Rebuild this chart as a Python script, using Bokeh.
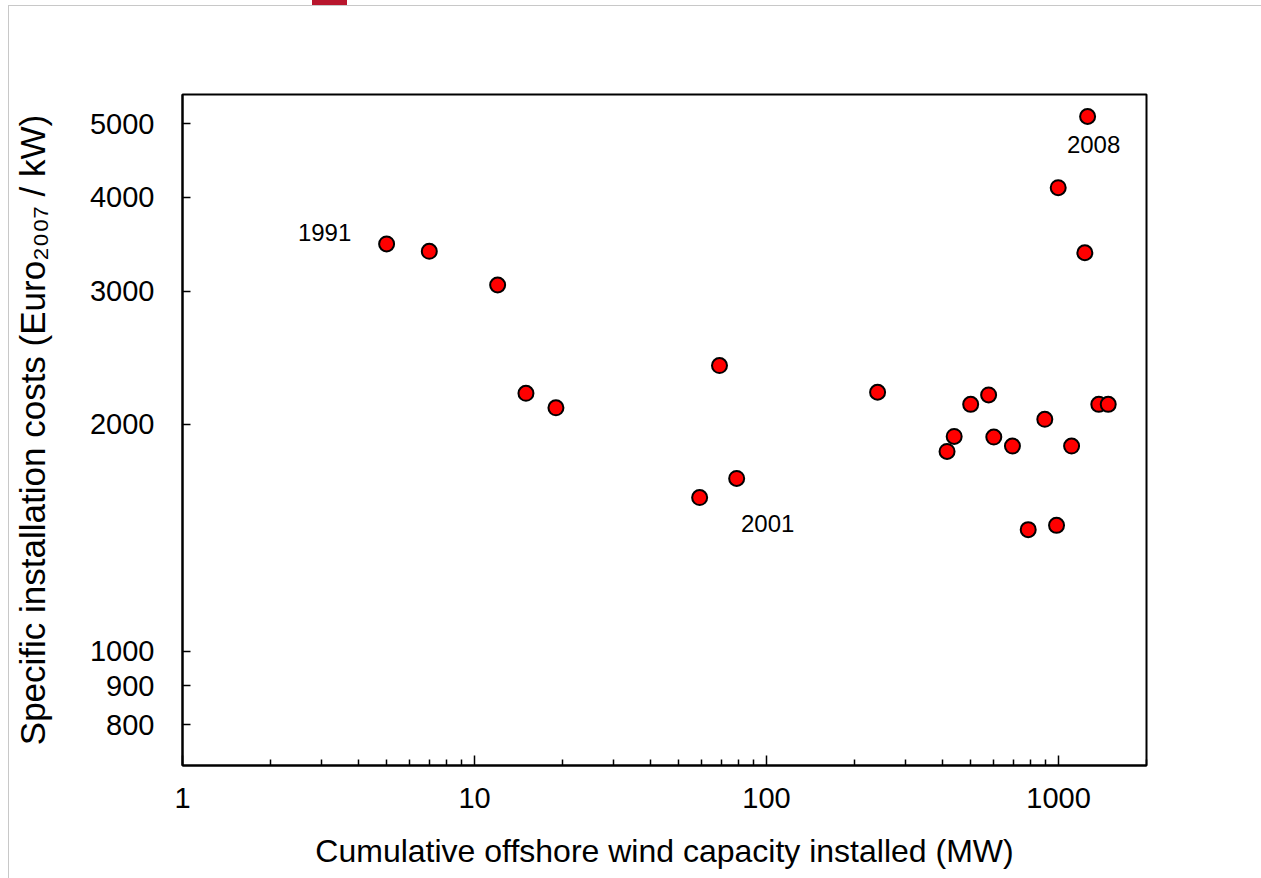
from bokeh.plotting import figure
from bokeh.models import Range1d, FixedTicker, PrintfTickFormatter, ColumnDataSource
from bokeh.core.properties import value
from bokeh.embed import file_html
from bokeh.resources import INLINE

# ---- data ----
capacity_mw = [5, 7, 12, 15, 19, 59, 69, 79, 240, 415, 439, 500, 576, 600,
               695, 787, 897, 984, 997, 1108, 1230, 1257, 1373, 1479]
cost_eur_per_kw = [3467, 3390, 3059, 2198, 2103, 1599, 2392, 1695, 2205, 1841,
                   1927, 2125, 2187, 1923, 1871, 1450, 2030, 1469, 4116, 1871,
                   3375, 5115, 2125, 2125]

x_ticks = [1, 10, 100, 1000]
x_minor_ticks = [2, 3, 4, 5, 6, 7, 8, 9,
                 20, 30, 40, 50, 60, 70, 80, 90,
                 200, 300, 400, 500, 600, 700, 800, 900, 2000]
y_ticks = [800, 900, 1000, 2000, 3000, 4000, 5000]

year_labels = ["1991", "2001", "2008"]
year_point_index = [0, 7, 21]

x_title = "Cumulative offshore wind capacity installed (MW)"
y_title = "Specific installation costs (Euro\u2082\u2080\u2080\u2087 / kW)"

FONT = "Liberation Sans"

p = figure(width=1261, height=878,
           x_axis_type="log", y_axis_type="log",
           x_range=Range1d(1, 2000), y_range=Range1d(706, 5470),
           output_backend="svg", toolbar_location=None,
           min_border_left=182, min_border_right=115,
           min_border_top=94, min_border_bottom=113)

p.background_fill_color = "white"
p.border_fill_alpha = 0
p.styles = {
    "background-image": ("linear-gradient(#b8162d,#b8162d), "
                         "linear-gradient(#c8c8c8,#c8c8c8), "
                         "linear-gradient(#c8c8c8,#c8c8c8)"),
    "background-position": "312px 0px, 8px 5px, 8px 5px",
    "background-size": "35px 5px, 1px 873px, 1253px 1px",
    "background-repeat": "no-repeat, no-repeat, no-repeat",
    "background-color": "white",
}
p.outline_line_color = "black"
p.outline_line_width = 2
p.xgrid.visible = False
p.ygrid.visible = False

# x axis
xa = p.xaxis[0]
xa.ticker = FixedTicker(ticks=x_ticks, minor_ticks=x_minor_ticks)
xa.formatter = PrintfTickFormatter(format="%d")
xa.axis_line_color = "black"
xa.axis_line_width = 2
xa.major_tick_in = 10
xa.major_tick_out = 0
xa.minor_tick_in = 6
xa.minor_tick_out = 0
xa.major_tick_line_color = "black"
xa.major_tick_line_width = 1.5
xa.minor_tick_line_color = "black"
xa.minor_tick_line_width = 1.5
xa.major_label_text_font = FONT
xa.major_label_text_font_size = "29px"
xa.major_label_text_color = "black"
xa.major_label_standoff = 22
xa.axis_label = x_title
xa.axis_label_text_font = FONT
xa.axis_label_text_font_size = "32px"
xa.axis_label_text_font_style = "normal"
xa.axis_label_text_color = "black"
xa.axis_label_standoff = 22

# y axis
ya = p.yaxis[0]
ya.ticker = FixedTicker(ticks=y_ticks, minor_ticks=[])
ya.formatter = PrintfTickFormatter(format="%d")
ya.axis_line_color = "black"
ya.axis_line_width = 2
ya.major_tick_in = 8
ya.major_tick_out = 0
ya.major_tick_line_color = "black"
ya.major_tick_line_width = 1.5
ya.minor_tick_line_color = None
ya.major_label_text_font = FONT
ya.major_label_text_font_size = "29px"
ya.major_label_text_color = "black"
ya.major_label_standoff = 28
ya.axis_label = y_title
ya.axis_label_text_font = FONT
ya.axis_label_text_font_size = "35px"
ya.axis_label_text_font_style = "normal"
ya.axis_label_text_color = "black"
ya.axis_label_standoff = 35

src = ColumnDataSource(dict(x=capacity_mw, y=cost_eur_per_kw))
p.scatter(x="x", y="y", source=src, marker="circle", size=15,
          fill_color="#ff0000", line_color="black", line_width=2)

lab_src = ColumnDataSource(dict(
    x=[capacity_mw[i] for i in year_point_index],
    y=[cost_eur_per_kw[i] for i in year_point_index],
    text=year_labels,
    dx=[-62, 31, 6],
    dy=[-11, 45, 28],
))
p.text(x="x", y="y", text="text", source=lab_src,
       x_offset="dx", y_offset="dy",
       text_align="center", text_baseline="middle",
       text_font=value(FONT), text_font_size="24px", text_color="black")

open("out.html", "w").write(file_html(p, INLINE))
